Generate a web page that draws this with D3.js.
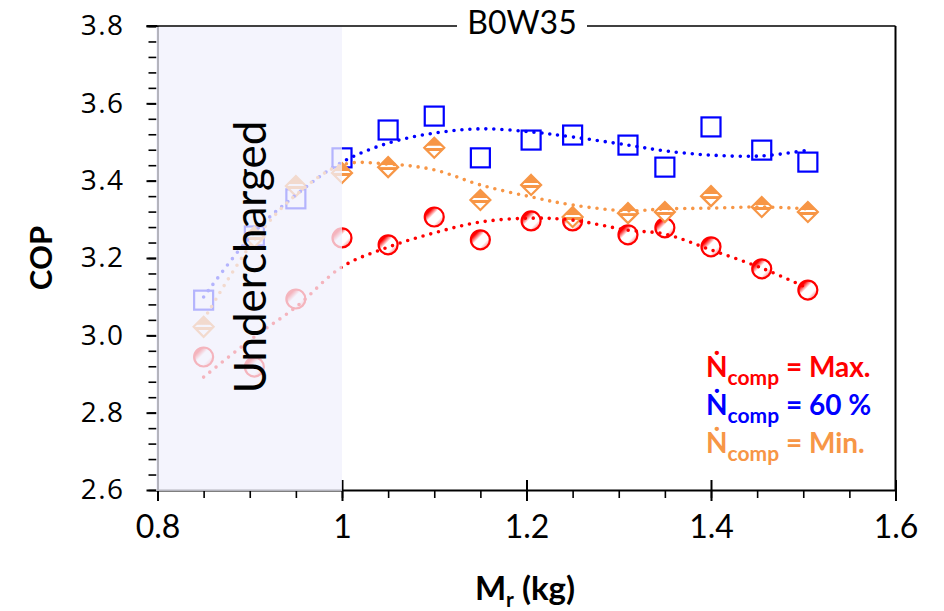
<!DOCTYPE html>
<html>
<head>
<meta charset="utf-8">
<script src="https://cdn.jsdelivr.net/npm/d3@7"></script>
<style>
  body { margin: 0; background: #fff; }
  svg { display: block; font-family: Lato, "Open Sans", sans-serif; }
</style>
</head>
<body>
<svg id="chart" width="944" height="611"></svg>
<script>
// measured charge M_r (kg)
const mass = [0.85, 0.905, 0.95, 1.0, 1.05, 1.1, 1.15, 1.205, 1.25, 1.31, 1.35, 1.4, 1.455, 1.505];

// COP per compressor speed
const copMax = [2.944, 2.918, 3.094, 3.252, 3.234, 3.306, 3.247, 3.296, 3.296, 3.260, 3.278, 3.229, 3.172, 3.117];
const cop60  = [3.091, 3.257, 3.353, 3.459, 3.531, 3.567, 3.459, 3.505, 3.518, 3.492, 3.435, 3.539, 3.479, 3.448];
const copMin = [3.022, 3.254, 3.386, 3.420, 3.435, 3.485, 3.350, 3.389, 3.306, 3.316, 3.319, 3.360, 3.332, 3.319];

// dotted trend lines at the same masses
const trendMax = [2.892, 2.996, 3.073, 3.177, 3.228, 3.265, 3.293, 3.303, 3.298, 3.272, 3.262, 3.221, 3.174, 3.122];
const trend60  = [3.099, 3.267, 3.363, 3.448, 3.497, 3.523, 3.534, 3.526, 3.513, 3.492, 3.477, 3.466, 3.464, 3.479];
const trendMin = [3.040, 3.247, 3.363, 3.441, 3.443, 3.428, 3.389, 3.358, 3.337, 3.322, 3.327, 3.329, 3.332, 3.327];

const xTicks = [0.8, 1.0, 1.2, 1.4, 1.6];
const xTickLabels = ["0.8", "1", "1.2", "1.4", "1.6"];
const yTicks = [2.6, 2.8, 3.0, 3.2, 3.4, 3.6, 3.8];
const yTickLabels = ["2.6", "2.8", "3.0", "3.2", "3.4", "3.6", "3.8"];
const underchargedRange = [0.8, 1.0];

const RED = "#ff0000", BLUE = "#0000ff", ORANGE = "#f79646";

const svg = d3.select("#chart");

const x = d3.scaleLinear().domain([0.8, 1.6]).range([157.5, 895.5]);
const y = d3.scaleLinear().domain([2.6, 3.8]).range([490, 26]);

// gradients for the marker fills
const defs = svg.append("defs");
const gc = defs.append("linearGradient").attr("id", "gCirc")
  .attr("x1", "0").attr("y1", "0").attr("x2", "1").attr("y2", "1");
[[0, RED], [0.22, RED], [0.42, "#fff"], [0.68, "#fff"], [0.9, "#ff7070"], [1, RED]]
  .forEach(([o, c]) => gc.append("stop").attr("offset", o).attr("stop-color", c));
const gd = defs.append("linearGradient").attr("id", "gDiam")
  .attr("x1", "0").attr("y1", "0").attr("x2", "0").attr("y2", "1");
[[0, ORANGE], [0.38, ORANGE], [0.4, "#fff"], [0.5, "#fff"], [0.52, ORANGE], [0.64, ORANGE], [0.66, "#fff"], [1, "#fff"]]
  .forEach(([o, c]) => gd.append("stop").attr("offset", o).attr("stop-color", c));

// axes
const yMinor = d3.range(2.6, 3.8001, 0.04);
svg.append("g")
  .attr("transform", `translate(${x(0.8)},0)`)
  .call(d3.axisLeft(y).tickValues(yMinor).tickSize(9).tickSizeOuter(0).tickFormat(""))
  .call(g => g.select(".domain").attr("stroke", "#000").attr("stroke-width", 2))
  .call(g => g.selectAll(".tick line").attr("stroke-width", 1.6));

svg.append("g")
  .attr("transform", `translate(${x(0.8)},0)`)
  .call(d3.axisLeft(y).tickValues(yTicks).tickSize(11).tickPadding(22)
    .tickFormat((d, i) => yTickLabels[i]))
  .call(g => g.select(".domain").remove())
  .call(g => g.selectAll(".tick line").attr("stroke-width", 2))
  .call(g => g.selectAll(".tick text")
    .attr("font-family", "'Open Sans', sans-serif")
    .attr("font-size", 28).attr("letter-spacing", 1.5).attr("fill", "#000"));

const xMinor = d3.range(0.8, 1.6001, 0.05);
svg.append("g")
  .attr("transform", `translate(0,${y(2.6)})`)
  .call(d3.axisBottom(x).tickValues(xMinor).tickSize(8).tickSizeOuter(0).tickFormat(""))
  .call(g => g.select(".domain").attr("stroke", "#000").attr("stroke-width", 2))
  .call(g => g.selectAll(".tick line").attr("stroke-width", 1.6));

svg.append("g")
  .attr("transform", `translate(0,${y(2.6)})`)
  .call(d3.axisBottom(x).tickValues(xTicks).tickSize(11).tickPadding(14)
    .tickFormat((d, i) => xTickLabels[i]))
  .call(g => g.select(".domain").remove())
  .call(g => g.selectAll(".tick line").attr("y1", -10).attr("stroke-width", 2))
  .call(g => g.selectAll(".tick text")
    .attr("font-family", "Lato, sans-serif")
    .attr("font-size", 32).attr("fill", "#000"));

// frame: right side and top with a gap for the title
svg.append("line").attr("x1", x(1.6)).attr("x2", x(1.6)).attr("y1", y(3.8)).attr("y2", y(2.6))
  .attr("stroke", "#000").attr("stroke-width", 2);
svg.append("line").attr("x1", x(0.8)).attr("x2", 457).attr("y1", y(3.8)).attr("y2", y(3.8))
  .attr("stroke", "#000").attr("stroke-width", 1.6);
svg.append("line").attr("x1", 587).attr("x2", x(1.6)).attr("y1", y(3.8)).attr("y2", y(3.8))
  .attr("stroke", "#000").attr("stroke-width", 1.6);
svg.append("line").attr("x1", x(0.8) - 11).attr("x2", x(0.8)).attr("y1", y(3.8)).attr("y2", y(3.8))
  .attr("stroke", "#000").attr("stroke-width", 2);

svg.append("text").attr("x", 522).attr("y", 34).attr("text-anchor", "middle")
  .attr("font-size", 32).attr("fill", "#000").text("B0W35");

// series
const series = [
  { cop: copMax, trend: trendMax, color: RED, shape: "circle" },
  { cop: cop60, trend: trend60, color: BLUE, shape: "square" },
  { cop: copMin, trend: trendMin, color: ORANGE, shape: "diamond" }
];

const marks = svg.append("g");
series.forEach(s => {
  const pts = mass.map((m, i) => [x(m), y(s.cop[i])]);
  const g = marks.append("g");
  if (s.shape === "circle") {
    g.selectAll("circle").data(pts).enter().append("circle")
      .attr("cx", d => d[0]).attr("cy", d => d[1]).attr("r", 9.5)
      .attr("fill", "url(#gCirc)").attr("stroke", s.color).attr("stroke-width", 2.2);
  } else if (s.shape === "square") {
    g.selectAll("rect").data(pts).enter().append("rect")
      .attr("x", d => d[0] - 9.5).attr("y", d => d[1] - 9.5)
      .attr("width", 19).attr("height", 19)
      .attr("fill", "#fff").attr("stroke", s.color).attr("stroke-width", 2.2);
  } else {
    g.selectAll("path").data(pts).enter().append("path")
      .attr("d", d => `M${d[0]},${d[1] - 10}L${d[0] + 10},${d[1]}L${d[0]},${d[1] + 10}L${d[0] - 10},${d[1]}Z`)
      .attr("fill", "url(#gDiam)").attr("stroke", s.color).attr("stroke-width", 2.2);
  }
});

const line = d3.line().x(d => x(d[0])).y(d => y(d[1])).curve(d3.curveCatmullRom);
series.forEach(s => {
  marks.append("path")
    .datum(mass.map((m, i) => [m, s.trend[i]]))
    .attr("d", line)
    .attr("fill", "none").attr("stroke", s.color).attr("stroke-width", 3.6)
    .attr("stroke-linecap", "round").attr("stroke-dasharray", "0 8");
});

// undercharged zone, drawn over the marks so they fade
svg.append("rect")
  .attr("x", x(underchargedRange[0]) - 1.5).attr("y", y(3.8) + 1)
  .attr("width", x(underchargedRange[1]) - x(underchargedRange[0]) + 1.5)
  .attr("height", y(2.6) - y(3.8))
  .attr("fill", "rgb(240,240,252)").attr("fill-opacity", 0.75);

svg.append("text")
  .attr("transform", `translate(266,${y(3.2) - 1}) rotate(-90)`)
  .attr("text-anchor", "middle").attr("font-size", 44).attr("fill", "#000")
  .text("Undercharged");

// axis titles
svg.append("text")
  .attr("transform", `translate(52,${y(3.2)}) rotate(-90)`)
  .attr("text-anchor", "middle").attr("font-size", 31).attr("font-weight", "bold")
  .text("COP");

const xt = svg.append("text").attr("x", 525).attr("y", 600).attr("text-anchor", "middle")
  .attr("font-size", 33).attr("font-weight", "bold");
xt.append("tspan").text("M");
xt.append("tspan").attr("font-size", 21).attr("dy", 7).text("r");
xt.append("tspan").attr("dy", -7).text(" (kg)");

// legend
const legend = [
  { label: " = Max.", color: RED },
  { label: " = 60 %", color: BLUE },
  { label: " = Min.", color: ORANGE }
];
legend.forEach((l, i) => {
  const t = svg.append("text").attr("x", 706).attr("y", 377 + i * 38)
    .attr("font-size", 28).attr("font-weight", "bold").attr("fill", l.color);
  t.append("tspan").text("Ṅ");
  t.append("tspan").attr("font-size", 21).attr("dy", 8).text("comp");
  t.append("tspan").attr("dy", -8).text(l.label);
});
</script>
</body>
</html>
